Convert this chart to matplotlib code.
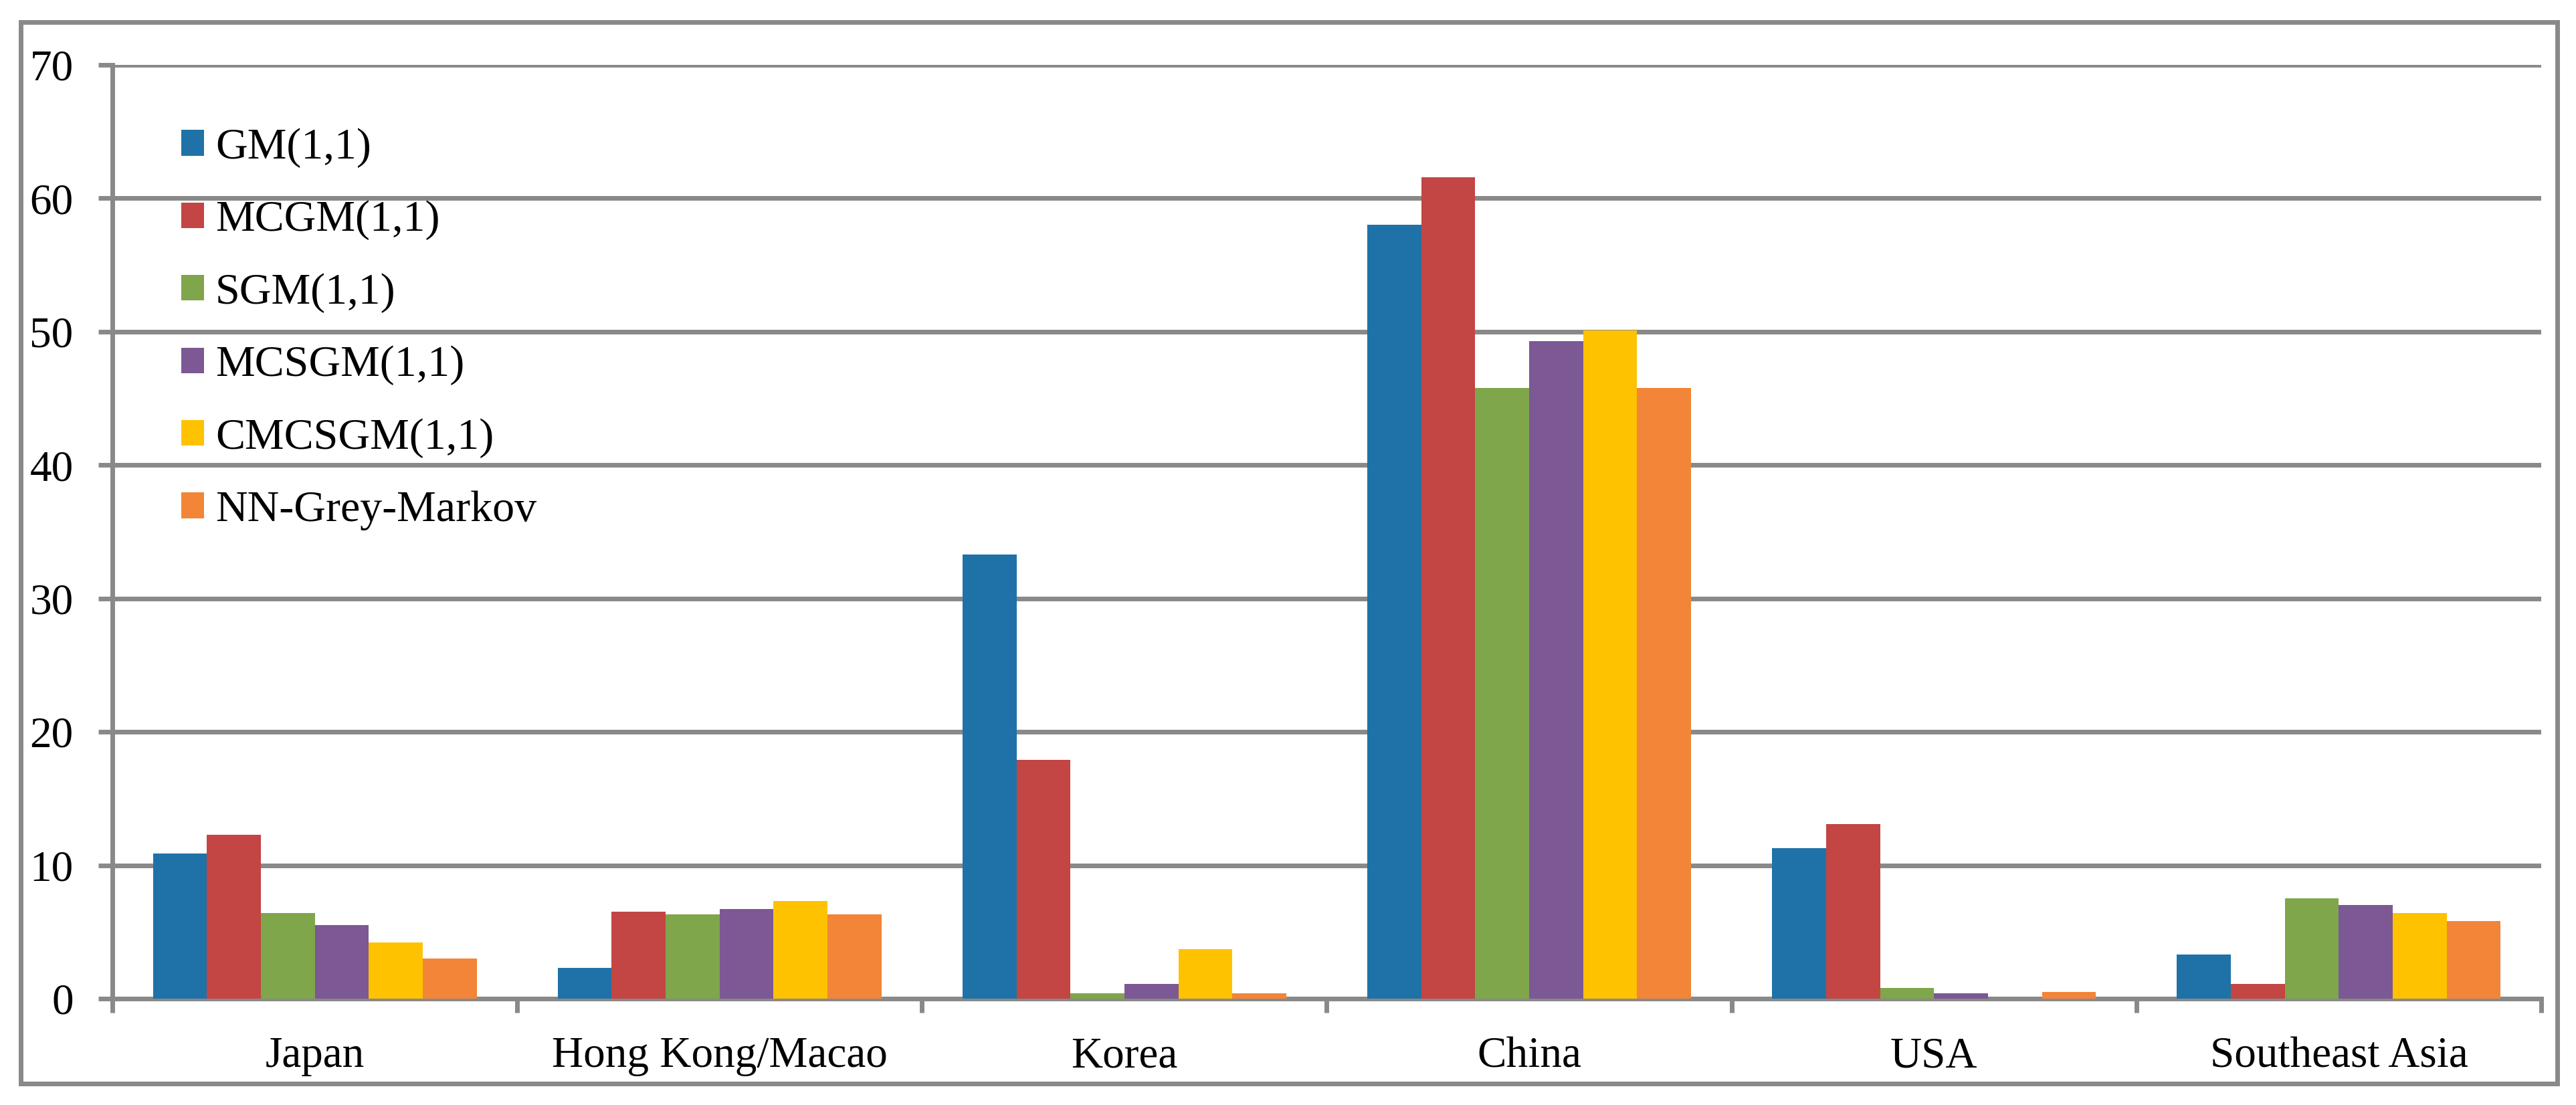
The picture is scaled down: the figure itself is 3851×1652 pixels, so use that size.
import matplotlib
matplotlib.use("Agg")
import matplotlib.pyplot as plt
import numpy as np
from matplotlib.patches import Rectangle

categories = ["Japan", "Hong Kong/Macao", "Korea", "China", "USA", "Southeast Asia"]
series_names = ["GM(1,1)", "MCGM(1,1)", "SGM(1,1)", "MCSGM(1,1)", "CMCSGM(1,1)", "NN-Grey-Markov"]
gm = [10.9, 2.3, 33.3, 58.0, 11.3, 3.3]
mcgm = [12.3, 6.5, 17.9, 61.6, 13.1, 1.1]
sgm = [6.4, 6.3, 0.4, 45.8, 0.8, 7.5]
mcsgm = [5.5, 6.7, 1.1, 49.3, 0.4, 7.0]
cmcsgm = [4.2, 7.3, 3.7, 50.1, 0.0, 6.4]
nngm = [3.0, 6.3, 0.4, 45.8, 0.5, 5.8]
yticks = [0, 10, 20, 30, 40, 50, 60, 70]

series = [gm, mcgm, sgm, mcsgm, cmcsgm, nngm]
colors = ["#1f72a8", "#c34544", "#7fa64a", "#7c5894", "#fec200", "#f28537"]
gray = "#898989"

plt.rcParams['font.family'] = ['Liberation Serif', 'DejaVu Serif']

W, H = 3851, 1652
dpi = 100
fig = plt.figure(figsize=(W / dpi, H / dpi), dpi=dpi)

# outer frame
fig.patches.append(Rectangle((31 / W, 1 - 1620 / H), (3823 - 31) / W, (1620 - 33) / H,
                             transform=fig.transFigure, fill=False, edgecolor=gray,
                             linewidth=5, zorder=0))

ax = fig.add_axes([168 / W, 159 / H, (3799 - 168) / W, (1493 - 97) / H])

n = len(series)
x = np.arange(len(categories))
total = 0.80
bw = total / n
for i, (vals, name, c) in enumerate(zip(series, series_names, colors)):
    ax.bar(x - total / 2 + bw * (i + 0.5), vals, width=bw, color=c, label=name, zorder=3,
           linewidth=0)

ax.set_xlim(-0.5, len(categories) - 0.5)
ax.set_ylim(0, 70)
ax.set_yticks(yticks)
ax.set_yticklabels([str(v) for v in yticks], fontsize=47)
ax.yaxis.grid(True, color=gray, linewidth=5, zorder=0)
ax.set_axisbelow(True)

ax.set_xticks(np.arange(-0.5, len(categories), 1.0))
ax.set_xticklabels([""] * (len(categories) + 1))
ax.set_xticks(x, minor=True)
ax.set_xticklabels(categories, minor=True, fontsize=47)
ax.tick_params(axis='x', which='major', length=15, width=5, color=gray, direction='out')
ax.tick_params(axis='x', which='minor', length=0, pad=41)
ax.tick_params(axis='y', length=15, width=5, color=gray, direction='out', pad=27)

for s in ['top', 'right']:
    ax.spines[s].set_visible(False)
for s in ['left', 'bottom']:
    ax.spines[s].set_color(gray)
    ax.spines[s].set_linewidth(5)

leg = ax.legend(loc='upper left', bbox_to_anchor=((271 - 168) / (3799 - 168), 1 - (191 - 97) / (1493 - 97)),
                frameon=False, fontsize=47.5, borderaxespad=0, borderpad=0,
                handlelength=0.52, handleheight=0.52, handletextpad=0.25, labelspacing=0.74)

fig.savefig("out.png", dpi=dpi, facecolor="white")
